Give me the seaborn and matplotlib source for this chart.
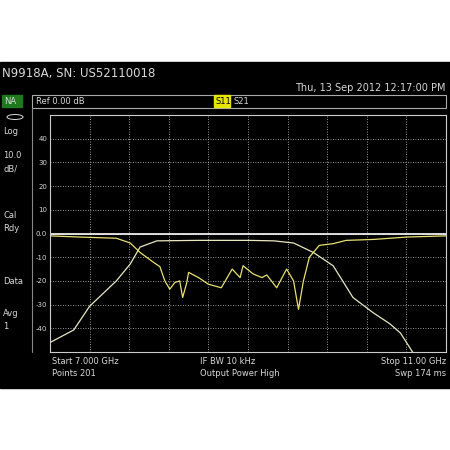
import matplotlib
matplotlib.use("Agg")
import matplotlib.pyplot as plt
import seaborn as sns
import pandas as pd
from matplotlib.patches import Rectangle, Ellipse

s21_f = [7.0, 7.24, 7.4, 7.67, 7.81, 7.91, 8.08, 8.5, 9.0, 9.26, 9.46, 9.66, 9.86, 10.06, 10.27, 10.43, 10.54, 10.67]
s21_db = [-46, -40.7, -30.7, -20, -12.9, -5.7, -3.1, -2.9, -2.9, -3.1, -4, -8, -13.6, -27, -33.6, -38, -42, -50.5]
s11_f = [7.0, 7.3, 7.67, 7.81, 7.91, 8.04, 8.11, 8.16, 8.21, 8.26, 8.31, 8.34, 8.38, 8.40, 8.5, 8.6, 8.73, 8.84, 8.92,
         8.95, 9.05, 9.14, 9.19, 9.29, 9.39, 9.46, 9.51, 9.56, 9.62, 9.72, 9.86, 9.99, 10.27, 10.6, 11.0]
s11_db = [-1, -1.5, -2, -4, -8, -12, -14, -20, -23.5, -20.7, -20, -27, -21, -16.4, -18.6, -21.4, -22.9, -15, -18.6,
          -13.6, -17, -18.6, -17.5, -22.9, -15, -20, -32, -20, -10, -5, -4.3, -2.9, -2.5, -1.5, -1]
ref_f = [7.0, 11.0]
ref_db = [0, 0]

sns.set_theme(style="dark")
plt.rcParams['font.family'] = ['DejaVu Sans']
fig = plt.figure(figsize=(4.5, 4.5), dpi=100)
fig.patch.set_facecolor("white")

def fy(y): return 1 - y / 450
def fx(x): return x / 450

fg = "#d8d8d8"
fig.patches.append(Rectangle((0, fy(388)), 1, (388 - 62) / 450, transform=fig.transFigure, color="black", zorder=-5))
fig.patches.append(Rectangle((fx(32), fy(108)), fx(414), 13 / 450, transform=fig.transFigure, fill=False, ec="#aaaaaa", lw=0.8))
fig.patches.append(Rectangle((fx(2), fy(107)), fx(20), 12 / 450, transform=fig.transFigure, color="#1f7a1f"))
fig.patches.append(Rectangle((fx(214), fy(107)), fx(16), 12 / 450, transform=fig.transFigure, color="#e6e600"))
fig.patches.append(Ellipse((fx(15), fy(117)), fx(16), 5 / 450, transform=fig.transFigure, fill=False, ec=fg, lw=0.7))
fig.lines.append(plt.Line2D([fx(32), fx(32)], [fy(108), fy(352)], transform=fig.transFigure, color="#888888", lw=0.8))

fig.text(fx(2), fy(74), "N9918A, SN: US52110018", color=fg, fontsize=8.5, va="center")
fig.text(fx(446), fy(88), "Thu, 13 Sep 2012 12:17:00 PM", color=fg, fontsize=7, va="center", ha="right")
fig.text(fx(4), fy(101), "NA", color=fg, fontsize=6, va="center")
fig.text(fx(36), fy(101), "Ref 0.00 dB", color=fg, fontsize=6, va="center")
fig.text(fx(215), fy(101), "S11", color="black", fontsize=6, va="center")
fig.text(fx(233), fy(101), "S21", color=fg, fontsize=6, va="center")
for t, y in [("Log", 131), ("10.0\ndB/", 162), ("Cal\nRdy", 222), ("Data", 282), ("Avg\n1", 320)]:
    fig.text(fx(3), fy(y), t, color=fg, fontsize=6, va="center", linespacing=1.6)
fig.text(fx(52), fy(361), "Start 7.000 GHz", color=fg, fontsize=6, va="center")
fig.text(fx(52), fy(374), "Points 201", color=fg, fontsize=6, va="center")
fig.text(fx(200), fy(361), "IF BW 10 kHz", color=fg, fontsize=6, va="center")
fig.text(fx(200), fy(374), "Output Power High", color=fg, fontsize=6, va="center")
fig.text(fx(446), fy(361), "Stop 11.00 GHz", color=fg, fontsize=6, va="center", ha="right")
fig.text(fx(446), fy(374), "Swp 174 ms", color=fg, fontsize=6, va="center", ha="right")

ax = fig.add_axes([fx(50), fy(352), fx(396), 237 / 450])
ax.set_zorder(5)
ax.set_facecolor("black")
sns.lineplot(x=ref_f, y=ref_db, ax=ax, color="white", lw=1.2)
sns.lineplot(x=s21_f, y=s21_db, ax=ax, color="#e8e8c0", lw=0.9)
sns.lineplot(x=s11_f, y=s11_db, ax=ax, color="#e8e070", lw=0.9)
ax.set_xlim(7, 11)
ax.set_ylim(-50, 50)
ax.set_xticks([7 + 0.4 * i for i in range(11)])
ax.set_yticks(range(-40, 50, 10))
ax.set_xticklabels([])
ax.set_yticklabels(["-40", "-30", "-20", "-10", "0.0", "10", "20", "30", "40"])
ax.tick_params(axis="y", colors=fg, labelsize=5, length=0, pad=2)
ax.tick_params(axis="x", length=0)
ax.grid(True, color="#cccccc", ls=(0, (1, 2)), lw=0.6)
ax.set_xlabel(""); ax.set_ylabel("")
for s in ax.spines.values():
    s.set_visible(True); s.set_color("#cccccc"); s.set_linewidth(0.8)

fig.savefig("out.png", dpi=100, facecolor="white")
